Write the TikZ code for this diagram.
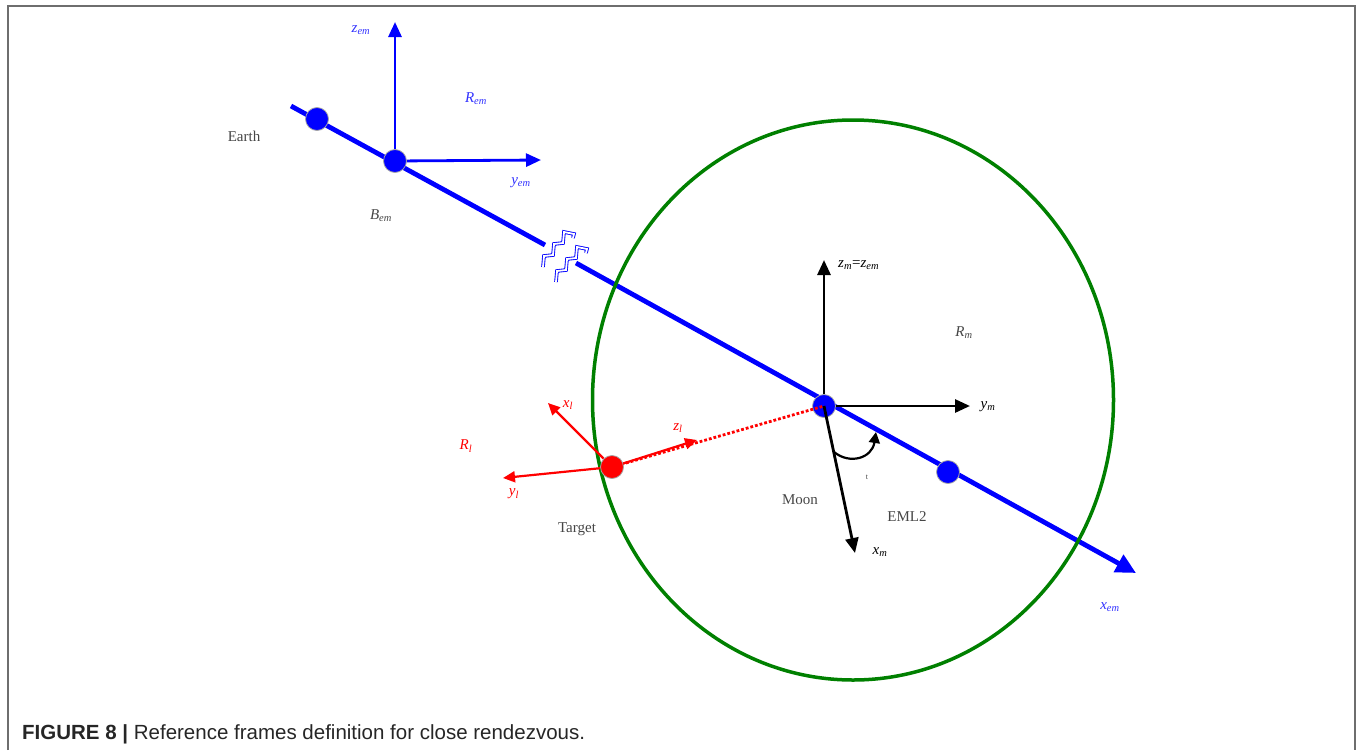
\documentclass[tikz,border=0pt]{standalone}
\usepackage{fontspec}
\setmainfont{Liberation Serif}
\newfontfamily\captionfont{Liberation Sans}
\usetikzlibrary{arrows.meta, calc}
\definecolor{emcolor}{RGB}{0,0,255}
\definecolor{emtextcolor}{RGB}{50,50,255}
\definecolor{orbitcolor}{RGB}{0,128,0}
\definecolor{targetcolor}{RGB}{255,0,0}
\definecolor{namecolor}{RGB}{70,70,70}
\definecolor{framecolor}{RGB}{110,110,110}
\newcommand{\axlbl}[2]{\textit{#1}\textsubscript{\textit{#2}}}

\begin{document}
\begin{tikzpicture}[x=1pt,y=-1pt]
  \tikzset{
    body/.style={
      circle,
      draw=gray!70,
      line width=0.8pt,
      minimum size=23pt,
      inner sep=0pt
    },
    axis/.style={line width=2.8pt, -{Triangle[length=15pt,width=13pt]}},
    smallaxis/.style={line width=2.2pt, -{Triangle[length=12pt,width=11pt]}},
    lbl/.style={font=\fontsize{15}{17}\selectfont, inner sep=0pt},
    zigzag/.style={emcolor, line width=0.9pt, double=white, double distance=1.8pt}
  }
  \useasboundingbox (0,0) rectangle (1363,750);

  % Page frame
  \draw[framecolor, line width=2pt] (8,750) -- (8,6) -- (1355,6) -- (1355,750);

  % Earth-Moon line (blue), broken
  \coordinate (lstart) at (291,106);
  \coordinate (brkA) at (545,245);
  \coordinate (brkB) at (576,263);
  \coordinate (xemtip) at (1136,573);
  \draw[emcolor, line width=4.8pt] (lstart) -- (brkA);
  \draw[emcolor, line width=4.8pt, -{Triangle[length=20pt,width=19pt]}] (brkB) -- (xemtip);
  \foreach \dx/\dy in {0/0, 13/15}
    \draw[zigzag] ($(543,267)+(\dx,\dy)$) -- ++(1,-11) -- ++(9,-1) -- ++(1,-11)
      -- ++(9,-1) -- ++(1,-11) -- ++(10,2) -- ++(-1,4);

  % Orbit (green)
  \draw[orbitcolor, line width=3.5pt] (853,400) ellipse [x radius=260.5pt, y radius=280pt];

  % Bodies
  \node[body, fill=emcolor] (earth) at (317,119) {};
  \node[body, fill=emcolor] (bem) at (395,161) {};
  \node[body, fill=emcolor] (moon) at (824,406) {};
  \node[body, fill=emcolor] (eml) at (948,472) {};

  % Target to Moon (red, dotted)
  \coordinate (zltip) at (697,440);
  \draw[targetcolor, line width=2.8pt, dotted] (612,467) -- (moon.center);
  \node[body, fill=targetcolor] (target) at (612,467) {};

  % Barycentre frame R_em (blue)
  \coordinate (zemtip) at (395,22);
  \coordinate (yemtip) at (541,160);
  \draw[axis, emcolor] (bem) -- (zemtip);
  \draw[axis, emcolor] (bem) -- (yemtip);
  \node[lbl, text=emtextcolor] (zem) at (361,30) {\axlbl{z}{em}};
  \node[lbl, text=emtextcolor] (rem) at (476,99) {\axlbl{R}{em}};
  \node[lbl, text=emtextcolor] (yem) at (521,183) {\axlbl{y}{em}};
  \node[lbl, text=emtextcolor] (xem) at (1110,607) {\axlbl{x}{em}};
  \node[lbl, text=namecolor] (bemlbl) at (381,216) {\axlbl{B}{em}};
  \node[lbl, text=namecolor] (earthlbl) at (244,136) {Earth};

  % Moon frame R_m (black)
  \coordinate (zmtip) at (824,260);
  \coordinate (ymtip) at (970,406);
  \coordinate (xmtip) at (855,553);
  \draw[axis] (moon) -- (zmtip);
  \draw[axis] (moon) -- (ymtip);
  \draw[axis] (moon.center) -- (xmtip);
  \draw[line width=2.2pt, -{Triangle[length=11pt,width=11pt]}]
    (834,452) .. controls (850,465) and (872,458) .. (876,432);
  \node[lbl, anchor=west] (zmlbl) at (838,265) {\axlbl{z}{m}=\axlbl{z}{em}};
  \node[lbl, text=namecolor] (rm) at (964,333) {\axlbl{R}{m}};
  \node[lbl] (ym) at (988,407) {\axlbl{y}{m}};
  \node[lbl] (xm) at (880,552) {\axlbl{x}{m}};
  \node[font=\fontsize{8}{9}\selectfont, text=namecolor, inner sep=0pt] (theta) at (867,477) {t};
  \node[lbl, text=namecolor] (moonlbl) at (800,500) {Moon};
  \node[lbl, text=namecolor] (emllbl) at (907,517) {EML2};

  % Target frame R_l (red)
  \coordinate (xltip) at (548,403);
  \coordinate (yltip) at (503,478);
  \draw[smallaxis, targetcolor] (target) -- (xltip);
  \draw[smallaxis, targetcolor] (target) -- (yltip);
  \draw[smallaxis, targetcolor] (target) -- (zltip);
  \node[lbl, text=targetcolor] (xl) at (568,405) {\axlbl{x}{l}};
  \node[lbl, text=targetcolor] (rl) at (466,446) {\axlbl{R}{l}};
  \node[lbl, text=targetcolor] (yl) at (514,494) {\axlbl{y}{l}};
  \node[lbl, text=targetcolor] (zl) at (678,428) {\axlbl{z}{l}};
  \node[lbl, text=namecolor] (targetlbl) at (577,529) {Target};

  % Caption
  \node[anchor=base west, inner sep=0pt, font=\captionfont\fontsize{20.5}{22}\selectfont, text=black!85]
    (caption) at (22,739) {\textbf{FIGURE 8 |} Reference frames definition for close rendezvous.};
\end{tikzpicture}
\end{document}
